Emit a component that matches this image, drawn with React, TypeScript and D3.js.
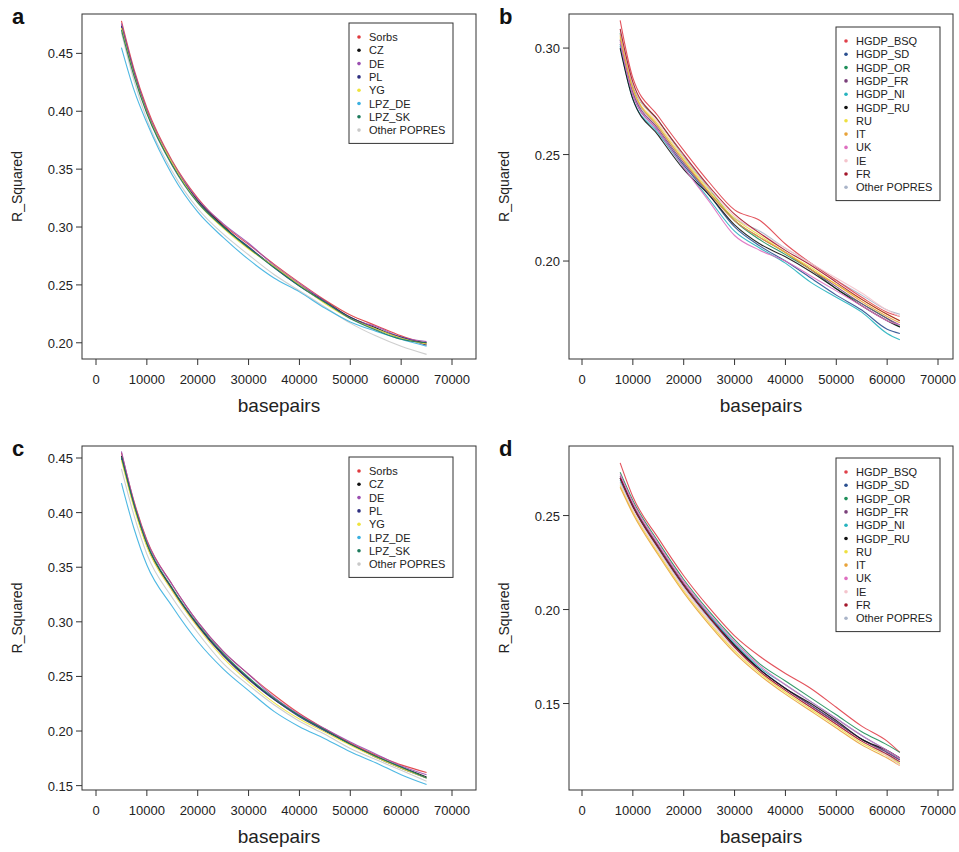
import * as d3 from 'd3';

// ---- data ----
const xEuro = [5000, 7500, 10000, 15000, 20000, 25000, 30000, 35000, 40000, 45000, 50000, 55000, 60000, 65000];
const xHgdp = [7500, 10000, 15000, 20000, 25000, 30000, 35000, 40000, 45000, 50000, 55000, 60000, 62500];
const xTicks = [0, 10000, 20000, 30000, 40000, 50000, 60000, 70000];

const euroNames = ['Sorbs', 'CZ', 'DE', 'PL', 'YG', 'LPZ_DE', 'LPZ_SK', 'Other POPRES'];
const euroColors = ['#e03a3e', '#111111', '#9b4fb0', '#2e2f80', '#efe33c', '#3bb0e0', '#1d7a5c', '#c9c9c9'];

const hgdpNames = ['HGDP_BSQ', 'HGDP_SD', 'HGDP_OR', 'HGDP_FR', 'HGDP_NI', 'HGDP_RU', 'RU', 'IT', 'UK', 'IE', 'FR', 'Other POPRES'];
const hgdpColors = ['#e0404a', '#2a4f8f', '#1f8f5a', '#7a3f7a', '#26b3bf', '#111111', '#eee040', '#e8a33a', '#de6fc0', '#f4c4cc', '#a3162a', '#a9b4c8'];

// panel a
const aSorbs = [.478, .436, .403, .357, .325, .302, .285, .268, .252, .237, .224, .215, .206, .199];
const aCZ = [.474, .433, .400, .355, .323, .301, .282, .266, .250, .236, .222, .213, .204, .200];
const aDE = [.476, .434, .401, .356, .324, .303, .286, .267, .251, .236, .221, .214, .205, .201];
const aPL = [.473, .432, .399, .354, .322, .300, .283, .265, .249, .235, .222, .212, .205, .198];
const aYG = [.472, .431, .399, .355, .321, .299, .281, .266, .250, .234, .221, .212, .204, .199];
const aLPZDE = [.455, .418, .390, .345, .313, .291, .272, .256, .244, .230, .218, .210, .203, .197];
const aLPZSK = [.470, .430, .398, .353, .321, .300, .282, .265, .249, .235, .221, .211, .203, .200];
const aOther = [.468, .426, .393, .348, .316, .294, .276, .259, .245, .231, .217, .206, .197, .190];

// panel b
const bBSQ = [.313, .286, .268, .252, .237, .224, .219, .208, .199, .191, .183, .176, .174];
const bSD = [.302, .278, .261, .245, .231, .216, .207, .200, .192, .184, .177, .168, .166];
const bOR = [.307, .282, .266, .249, .234, .219, .210, .203, .196, .187, .180, .173, .169];
const bHFR = [.304, .279, .262, .246, .232, .219, .211, .204, .196, .188, .180, .173, .170];
const bNI = [.301, .276, .260, .244, .229, .214, .206, .199, .190, .183, .176, .166, .163];
const bHRU = [.300, .276, .259, .243, .231, .217, .208, .202, .195, .187, .179, .172, .169];
const bRU = [.305, .281, .264, .248, .233, .220, .212, .204, .197, .189, .182, .175, .172];
const bIT = [.306, .281, .263, .247, .232, .219, .211, .204, .196, .189, .181, .174, .171];
const bUK = [.303, .278, .261, .244, .228, .212, .205, .200, .193, .186, .179, .172, .170];
const bIE = [.308, .283, .265, .249, .234, .221, .213, .206, .199, .192, .185, .177, .174];
const bFR = [.309, .284, .266, .250, .235, .222, .213, .205, .198, .190, .182, .175, .172];
const bOther = [.304, .280, .263, .247, .232, .220, .214, .206, .199, .191, .184, .177, .175];

// panel c
const cSorbs = [.455, .410, .375, .334, .300, .273, .252, .233, .216, .202, .189, .178, .169, .162];
const cCZ = [.452, .407, .371, .330, .297, .270, .248, .229, .214, .201, .188, .177, .167, .158];
const cDE = [.456, .409, .374, .334, .300, .273, .252, .231, .215, .202, .190, .179, .168, .160];
const cPL = [.450, .406, .370, .329, .296, .269, .247, .229, .213, .200, .188, .176, .166, .157];
const cYG = [.448, .404, .369, .328, .295, .267, .245, .226, .211, .199, .187, .176, .166, .157];
const cLPZDE = [.427, .385, .352, .314, .282, .257, .237, .218, .204, .193, .181, .171, .160, .151];
const cLPZSK = [.451, .407, .372, .331, .298, .271, .249, .230, .214, .201, .188, .177, .167, .157];
const cOther = [.440, .397, .362, .322, .290, .262, .242, .224, .209, .197, .184, .174, .164, .154];

// panel d
const dBSQ = [.278, .260, .238, .218, .201, .186, .175, .166, .158, .148, .138, .130, .124];
const dSD = [.270, .255, .233, .213, .196, .180, .168, .158, .149, .140, .131, .124, .120];
const dOR = [.273, .258, .236, .216, .199, .184, .171, .162, .153, .144, .135, .128, .124];
const dHFR = [.271, .256, .234, .214, .197, .181, .168, .158, .149, .140, .131, .124, .120];
const dNI = [.269, .255, .233, .213, .197, .182, .169, .160, .151, .142, .133, .125, .121];
const dHRU = [.270, .255, .233, .213, .196, .181, .168, .158, .150, .141, .131, .125, .121];
const dRU = [.266, .252, .230, .210, .193, .178, .166, .156, .147, .138, .129, .122, .118];
const dIT = [.265, .251, .229, .209, .192, .177, .165, .155, .146, .137, .128, .121, .117];
const dUK = [.272, .257, .235, .215, .198, .183, .170, .160, .151, .142, .133, .125, .121];
const dIE = [.267, .253, .231, .211, .194, .179, .167, .157, .148, .139, .130, .122, .117];
const dFR = [.270, .255, .233, .213, .196, .180, .167, .157, .148, .139, .130, .123, .119];
const dOther = [.268, .254, .232, .212, .195, .180, .168, .158, .149, .140, .131, .123, .118];

const panels = [
  { letter: 'a', x: xEuro, series: [aSorbs, aCZ, aDE, aPL, aYG, aLPZDE, aLPZSK, aOther], names: euroNames, colors: euroColors,
    yDomain: [0.186, 0.484], yTicks: [0.20, 0.25, 0.30, 0.35, 0.40, 0.45], box: [82, 14, 476, 359], xr: [96, 452], leg: [349, 23, 104] },
  { letter: 'b', x: xHgdp, series: [bBSQ, bSD, bOR, bHFR, bNI, bHRU, bRU, bIT, bUK, bIE, bFR, bOther], names: hgdpNames, colors: hgdpColors,
    yDomain: [0.154, 0.316], yTicks: [0.20, 0.25, 0.30], box: [569, 14, 953, 359], xr: [582, 938], leg: [836, 27, 104] },
  { letter: 'c', x: xEuro, series: [cSorbs, cCZ, cDE, cPL, cYG, cLPZDE, cLPZSK, cOther], names: euroNames, colors: euroColors,
    yDomain: [0.146, 0.461], yTicks: [0.15, 0.20, 0.25, 0.30, 0.35, 0.40, 0.45], box: [82, 446, 476, 790], xr: [96, 452], leg: [349, 457, 104] },
  { letter: 'd', x: xHgdp, series: [dBSQ, dSD, dOR, dHFR, dNI, dHRU, dRU, dIT, dUK, dIE, dFR, dOther], names: hgdpNames, colors: hgdpColors,
    yDomain: [0.104, 0.287], yTicks: [0.15, 0.20, 0.25], box: [569, 446, 953, 790], xr: [582, 938], leg: [836, 458, 104] },
];

const FONT = 'Liberation Sans, Arial, sans-serif';
const AX = '#333';

const Panel = ({ p }: { p: typeof panels[number] }) => {
  const [x0, y0, x1, y1] = p.box;
  const xs = d3.scaleLinear().domain([0, 70000]).range(p.xr);
  const ys = d3.scaleLinear().domain(p.yDomain).range([y1, y0]);
  const line = d3.line<number>().x((_, i) => xs(p.x[i])).y(d => ys(d)).curve(d3.curveMonotoneX);
  const [lx, ly, lw] = p.leg;
  const rowH = 13.3;
  const lh = p.names.length * rowH + 14;
  // draw order: grey first, then the rest, red on top
  const order = p.series.map((_, i) => i).sort((a, b) => (b === p.series.length - 1 ? 1 : 0) - (a === p.series.length - 1 ? 1 : 0));
  return (
    <g fontFamily={FONT}>
      <text x={x0 - 70} y={y0 + 10} fontSize={22} fontWeight="bold" fill="#111">{p.letter}</text>
      {order.map(i => (
        <path key={i} d={line(p.series[i]) ?? ''} fill="none" stroke={p.colors[i]} strokeWidth={1.1} opacity={0.9} />
      ))}
      <rect x={x0} y={y0} width={x1 - x0} height={y1 - y0} fill="none" stroke={AX} strokeWidth={1} />
      {xTicks.map(t => (
        <g key={t}>
          <line x1={xs(t)} x2={xs(t)} y1={y1} y2={y1 + 6} stroke={AX} />
          <text x={xs(t)} y={y1 + 25} fontSize={13} textAnchor="middle" fill="#222">{t}</text>
        </g>
      ))}
      {p.yTicks.map(t => (
        <g key={t}>
          <line x1={x0 - 6} x2={x0} y1={ys(t)} y2={ys(t)} stroke={AX} />
          <text x={x0 - 9} y={ys(t) + 5} fontSize={13} textAnchor="end" fill="#222">{t.toFixed(2)}</text>
        </g>
      ))}
      <text x={(x0 + x1) / 2} y={y1 + 53} fontSize={19} textAnchor="middle" fill="#222">basepairs</text>
      <text transform={`translate(${x0 - 60},${(y0 + y1) / 2}) rotate(-90)`} fontSize={14} textAnchor="middle" fill="#222">R_Squared</text>
      <rect x={lx} y={ly} width={lw} height={lh} fill="white" stroke={AX} />
      {p.names.map((n, i) => (
        <g key={n}>
          <circle cx={lx + 10} cy={ly + 14 + i * rowH} r={1.8} fill={p.colors[i]} />
          <text x={lx + 20} y={ly + 18 + i * rowH} fontSize={11} fill="#222">{n}</text>
        </g>
      ))}
    </g>
  );
};

export default function App() {
  return (
    <svg width={959} height={852} style={{ position: 'absolute', left: 0, top: 0, background: 'white' }}>
      {panels.map(p => <Panel key={p.letter} p={p} />)}
    </svg>
  );
}
